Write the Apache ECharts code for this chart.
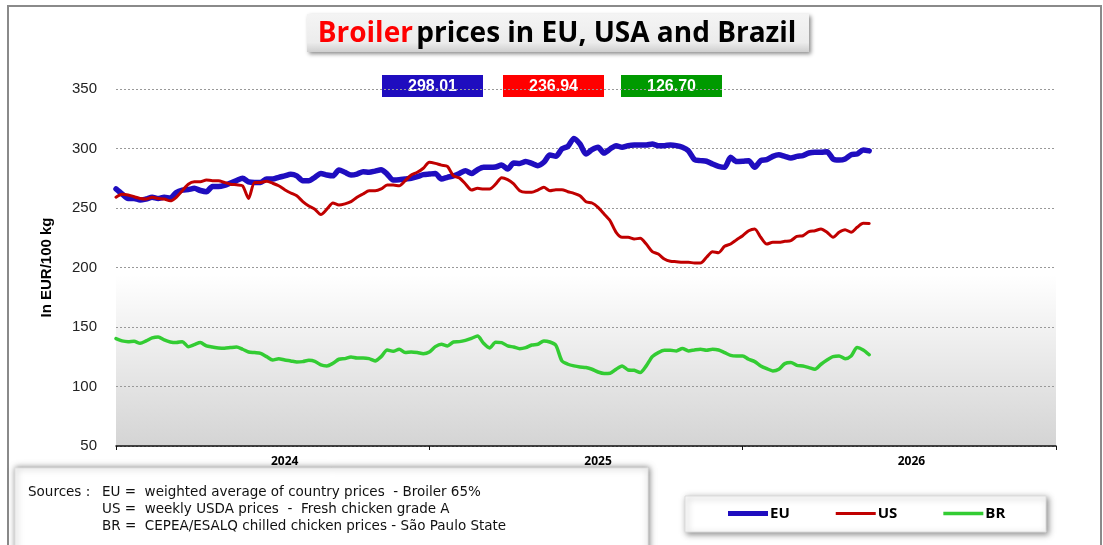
<!DOCTYPE html>
<html><head><meta charset="utf-8">
<script src="https://cdn.jsdelivr.net/npm/echarts@6/dist/echarts.min.js"></script>
<style>html,body{margin:0;padding:0;background:#fff;}#c{width:1103px;height:545px;}</style>
</head><body><div id="c"></div>
<script>
// ---- data ----
const weekCount = 157;              // 3 years of weekly slots on the axis
const yearLabels = ['2024', '2025', '2026'];
const yearLabelWeeks = [28, 80, 132];
const yearTickStep = 52;
const seriesNames = ['EU', 'US', 'BR'];

const eu = [266, 261.8, 258, 258, 256.7, 257.6, 259, 258, 259, 258.5, 263, 265, 265.5, 266.5, 264.7, 263.7, 268, 268, 269, 271, 273, 275, 272, 271.5, 271.5, 274.4, 274.4, 275.8, 277, 278.3, 277, 273, 273,
  275.8, 279, 277.7, 277, 282, 280, 277.7, 278.5, 280.5, 280, 281, 282.2, 278.5, 273.5, 273.7, 274.4, 275, 276.3, 278, 278.5, 279, 274.4, 275.8, 277, 279, 281.4, 279, 282.2, 284.2, 284.2, 284.5,
  286.1, 282.8, 287.8, 287.5, 289, 287.5, 285.6, 288.4, 294.5, 293.4, 299.6, 301.8, 308.5, 303.8, 295.4, 299, 301, 296.2, 299.6, 302.4, 301, 302.4, 302.9, 302.9, 302.9, 303.8, 302.4, 302.4, 302.9, 302.4, 301, 298,
  290.6, 289.8, 289.3, 287, 285, 284.2, 292.6, 289, 289.3, 289.8, 284.2, 289.8, 290.6, 293.4, 294.8, 293.4, 292, 293.4, 294, 296.2, 296.8, 296.8, 297.3, 291.2, 290.3, 291.2, 294.8, 295.4, 298.7, 298.01];

const us = [259, 261.5, 261, 259.5, 258, 257.6, 259, 258, 257.6, 256, 259, 264.5, 270, 272, 272, 273.5, 273, 273, 271.5, 270, 269.5, 268.7, 258, 271.5, 271.5, 272.5, 270.8, 268.7, 265.4, 262.6, 260.3, 255.4, 251.7,
  249, 244.5, 249, 254.2, 252.5, 253.5, 255.3, 259, 261.8, 264.5, 264.5, 266, 269.3, 269.3, 268.7, 273, 277.7, 280, 283.4, 288.4, 287.5, 286, 285, 277, 275.2, 270.2, 265.1, 266.5, 266, 266, 270,
  275.5, 273.8, 270.2, 264.5, 263.2, 263.2, 265.1, 267.4, 264.5, 265.4, 265.4, 263.7, 262.3, 260.3, 255.3, 254.2, 250.6, 245, 239.3, 229.6, 225.4, 225.4, 224, 224.5, 219.7, 213.3, 211.3, 207.1, 205.2, 204.9, 204.4, 204.4,
  203.8, 203.8, 208.6, 213.3, 212.5, 217.8, 219.7, 223.4, 226.7, 230.9, 232.4, 225.4, 219.7, 221.2, 221.2, 222, 222.6, 226.2, 226.7, 230.1, 230.9, 232.4, 229.6, 225.4, 229.6, 231.8, 229.6, 233.8, 237.1, 236.94];

const br = [140.2, 138.3, 137.7, 138, 136.3, 138.3, 140.8, 141.6, 139.1, 137.4, 136.9, 137.7, 133.5, 135.2, 136.9, 134.1, 133.2, 132.4, 132.1, 132.7, 133.2, 131.3, 129, 128.5, 127.9, 125.1, 122.3, 123.4, 122.3, 121.5, 120.6, 120.9, 122,
  121.2, 118.1, 117.3, 119.5, 122.9, 123.4, 124.8, 124, 124, 123.4, 121.5, 125.1, 130.7, 129.6, 131.3, 128.5, 129, 128.5, 127.6, 129, 133.5, 135.5, 134.1, 137.4, 137.7, 138.8, 140.5, 142.4, 136.3, 132.4, 137.2,
  136.9, 134.1, 133.2, 131.8, 132.7, 134.9, 135.5, 138.3, 137.4, 134.6, 121.5, 118.7, 117.3, 116.4, 115.9, 114.5, 112.2, 110.9, 111.1, 114.5, 117.3, 113.9, 113.6, 111.7, 117.3, 125.1, 128.5, 130.4, 130.4, 129.9, 132, 129.9,
  130.7, 131.3, 130.4, 131.3, 130.7, 128.5, 126.2, 125.7, 125.7, 122.9, 120.9, 117.3, 115, 113.1, 114.5, 119.2, 120.1, 117.8, 117.3, 115.9, 114.5, 118.7, 122.3, 125.1, 125.7, 123.4, 125.7, 132.7, 130.7, 126.7];

const sourceLines = [
  'EU =  weighted average of country prices  - Broiler 65%',
  'US =  weekly USDA prices  -  Fresh chicken grade A',
  'BR =  CEPEA/ESALQ chilled chicken prices - São Paulo State'
];

// ---- styles ----
const colors = { EU: '#1f0dbf', US: '#c00000', BR: '#33cc33' };
const boxColors = { EU: '#1f0dbf', US: '#ff0000', BR: '#009a00' };
const categories = Array.from({ length: weekCount }, (_, i) => 'W' + i);
const last = a => a[a.length - 1].toFixed(2);

const chart = echarts.init(document.getElementById('c'), null, { renderer: 'canvas' });

const valueBoxes = [['EU', eu, 382], ['US', us, 503], ['BR', br, 621]].map(([n, arr, x]) => ({
  type: 'group', x: x, y: 75, z: 10,
  children: [
    { type: 'rect', shape: { x: 0, y: 0, width: 101, height: 22 }, style: { fill: boxColors[n] } },
    { type: 'text', x: 50.5, y: 11.5, style: { text: last(arr), fill: '#fff', font: 'bold 16px "Liberation Sans", Arial', align: 'center', verticalAlign: 'middle' } }
  ]
}));

const option = {
  animation: false,
  backgroundColor: '#fff',
  grid: {
    left: 116, right: 47, top: 89, bottom: 99, show: true, borderWidth: 0,
    backgroundColor: new echarts.graphic.LinearGradient(0, 0, 0, 1, [
      { offset: 0, color: '#ffffff' }, { offset: 0.52, color: '#ffffff' }, { offset: 1, color: '#d4d4d4' }
    ])
  },
  xAxis: {
    type: 'category', data: categories, boundaryGap: false,
    axisLine: { lineStyle: { color: '#111', width: 1.5 } },
    axisTick: { show: true, interval: (i) => i % yearTickStep === 0, length: 4, lineStyle: { color: '#111' } },
    axisLabel: {
      interval: (i) => yearLabelWeeks.indexOf(i) >= 0,
      formatter: (v, i) => yearLabels[yearLabelWeeks.indexOf(i)] || '',
      fontWeight: 'bold', fontSize: 12, color: '#000', margin: 10, fontFamily: 'Open Sans'
    },
    splitLine: { show: false }
  },
  yAxis: {
    type: 'value', min: 50, max: 350, interval: 50,
    name: 'In EUR/100 kg', nameLocation: 'middle', nameGap: 62,
    nameTextStyle: { fontWeight: 'bold', fontSize: 15, color: '#000', fontFamily: 'Liberation Sans' },
    axisLine: { show: false }, axisTick: { show: false },
    axisLabel: { fontSize: 15, color: '#222', margin: 19, fontFamily: 'Liberation Sans' },
    splitLine: { lineStyle: { type: [2, 2], color: '#999', width: 1 } }
  },
  legend: {
    left: 728, top: 506, padding: 0, itemWidth: 40, itemHeight: 6, itemGap: 46,
    textStyle: { fontWeight: 'bold', fontSize: 15, color: '#000', fontFamily: 'Open Sans', padding: [0, 0, 0, -3] },
    data: [
      { name: 'EU', icon: 'path://M0,0 M40,6 M0,0.5 L40,0.5 L40,5.5 L0,5.5 Z' },
      { name: 'US', icon: 'path://M0,0 M40,6 M0,1.5 L40,1.5 L40,4.5 L0,4.5 Z' },
      { name: 'BR', icon: 'path://M0,0 M40,6 M0,1.3 L40,1.3 L40,4.7 L0,4.7 Z' }
    ]
  },
  series: [
    { name: 'EU', type: 'line', data: eu, symbol: 'none', smooth: 0.25, z: 3, color: colors.EU, lineStyle: { width: 5.5, color: colors.EU, cap: 'round', join: 'round' } },
    { name: 'US', type: 'line', data: us, symbol: 'none', smooth: 0.25, z: 4, color: colors.US, lineStyle: { width: 3, color: colors.US, cap: 'round', join: 'round' } },
    { name: 'BR', type: 'line', data: br, symbol: 'none', smooth: 0.25, z: 4, color: colors.BR, lineStyle: { width: 3.5, color: colors.BR, cap: 'round', join: 'round' } }
  ],
  graphic: [
    // outer frame
    { type: 'rect', z: 0, shape: { x: 8, y: 6, width: 1093, height: 560 }, style: { fill: 'none', stroke: '#8a8a8a', lineWidth: 2 } },
    // title box
    { type: 'rect', z: 5, shape: { x: 307, y: 14, width: 502, height: 38 },
      style: { fill: new echarts.graphic.LinearGradient(0, 0, 0, 1, [{ offset: 0, color: '#f4f4f4' }, { offset: 0.75, color: '#ececec' }, { offset: 1, color: '#cfcfcf' }]),
        shadowBlur: 4, shadowOffsetX: 2, shadowOffsetY: 2, shadowColor: 'rgba(0,0,0,0.45)' } },
    { type: 'text', z: 6, x: 557, y: 34,
      style: { text: '{r|Broiler} {b|prices in EU, USA and Brazil}', align: 'center', verticalAlign: 'middle',
        rich: { r: { fill: '#ff0000', font: 'bold 28px "Open Sans"' }, b: { fill: '#000', font: 'bold 28px "Open Sans"' } } } },
    ...valueBoxes,
    // sources box
    { type: 'rect', z: 5, shape: { x: 15, y: 468, width: 633, height: 100 },
      style: { fill: '#fff', stroke: '#e0e0e0', lineWidth: 1, shadowBlur: 6, shadowOffsetX: 1, shadowOffsetY: 0, shadowColor: 'rgba(0,0,0,0.5)' } },
    { type: 'text', z: 6, x: 28, y: 492, style: { text: 'Sources :', fill: '#111', font: '13.5px "DejaVu Sans"', verticalAlign: 'middle' } },
    ...sourceLines.map((t, k) => ({ type: 'text', z: 6, x: 102, y: 492 + k * 17, style: { text: t, fill: '#111', font: '13.5px "DejaVu Sans"', verticalAlign: 'middle' } })),
    // legend box
    { type: 'rect', z: 1, shape: { x: 685, y: 496, width: 361, height: 36 },
      style: { fill: '#fff', stroke: '#dcdcdc', lineWidth: 1, shadowBlur: 6, shadowOffsetX: 2, shadowOffsetY: 2, shadowColor: 'rgba(0,0,0,0.45)' } }
  ]
};
chart.setOption(option);
</script>
</body></html>
